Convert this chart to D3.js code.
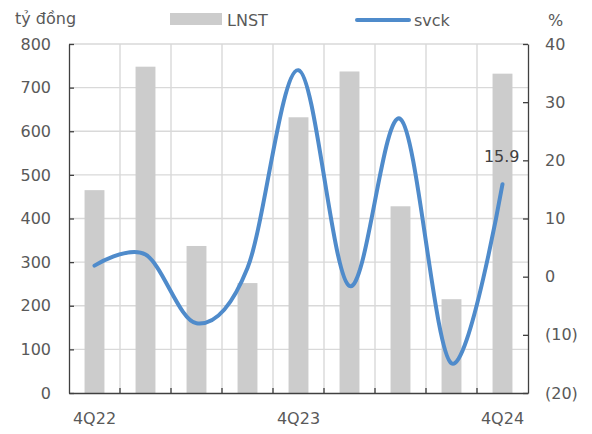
<!DOCTYPE html>
<html>
<head>
<meta charset="utf-8">
<script src="https://cdn.jsdelivr.net/npm/d3@7"></script>
<style>
  html, body { margin: 0; padding: 0; background: #fff; }
  svg { display: block; font-family: "DejaVu Sans", Verdana, sans-serif; }
</style>
</head>
<body>
<svg id="chart" width="592" height="434"></svg>
<script>
// Quarterly net profit (LNST, bn VND) and its YoY change (svck, %)
const quarters = ["4Q22", "1Q23", "2Q23", "3Q23", "4Q23", "1Q24", "2Q24", "3Q24", "4Q24"];
const lnst = [465, 748, 337, 252, 632, 737, 428, 215, 732];
const svck = [1.9, 3.8, -8.0, 1.5, 35.5, -1.6, 27.1, -14.9, 15.9];
const leftTicks = [0, 100, 200, 300, 400, 500, 600, 700, 800];
const rightTicks = [-20, -10, 0, 10, 20, 30, 40];
const shownQuarters = ["4Q22", "4Q23", "4Q24"];

const svg = d3.select("#chart");
const plotL = 69, plotR = 528, plotT = 44, plotB = 393;

const x = d3.scaleBand().domain(quarters).range([plotL, plotR]).paddingInner(0).paddingOuter(0);
const yL = d3.scaleLinear().domain([0, 800]).range([plotB, plotT]);
const yR = d3.scaleLinear().domain([-20, 40]).range([plotB, plotT]);

const gridColor = "#d9d9d9";
const axisColor = "#404040";
const textColor = "#595959";

// horizontal grid
svg.append("g").selectAll("line").data(leftTicks.filter(d => d > 0)).join("line")
  .attr("x1", plotL).attr("x2", plotR)
  .attr("y1", d => yL(d)).attr("y2", d => yL(d))
  .attr("stroke", gridColor).attr("stroke-width", 1.4);

// vertical grid at quarter boundaries
const bounds = quarters.slice(1).map(q => x(q));
svg.append("g").selectAll("line").data(bounds).join("line")
  .attr("x1", d => d).attr("x2", d => d)
  .attr("y1", plotT).attr("y2", plotB)
  .attr("stroke", gridColor).attr("stroke-width", 1.4);

// bars
const bw = x.bandwidth() * 0.39;
svg.append("g").selectAll("rect").data(quarters).join("rect")
  .attr("x", (d) => x(d) + x.bandwidth() / 2 - bw / 2)
  .attr("width", bw)
  .attr("y", (d, i) => yL(lnst[i]))
  .attr("height", (d, i) => plotB - yL(lnst[i]))
  .attr("fill", "#cccccc");

// left axis
const gL = svg.append("g").attr("transform", `translate(${plotL},0)`)
  .call(d3.axisLeft(yL).tickValues(leftTicks).tickSize(-5).tickPadding(18).tickSizeOuter(0));
// right axis
const gR = svg.append("g").attr("transform", `translate(${plotR},0)`)
  .call(d3.axisRight(yR).tickValues(rightTicks).tickSize(-5).tickPadding(17).tickSizeOuter(0)
    .tickFormat(d => d < 0 ? `(${Math.abs(d)})` : `${d}`));
// bottom axis
const gB = svg.append("g").attr("transform", `translate(0,${plotB})`)
  .call(d3.axisBottom(x).tickValues(shownQuarters).tickSize(0).tickPadding(20).tickSizeOuter(0));
svg.append("g").selectAll("line").data(bounds).join("line")
  .attr("x1", d => d).attr("x2", d => d)
  .attr("y1", plotB - 5).attr("y2", plotB)
  .attr("stroke", axisColor).attr("stroke-width", 1.3);

[gL, gR, gB].forEach(g => {
  g.select(".domain").attr("stroke", axisColor).attr("stroke-width", 1.3);
  g.selectAll(".tick line").attr("stroke", axisColor).attr("stroke-width", 1.3);
  g.selectAll("text").attr("fill", textColor).attr("font-size", 16)
    .attr("font-family", "DejaVu Sans, Verdana, sans-serif");
});

// svck line
const line = d3.line()
  .x((d, i) => x(quarters[i]) + x.bandwidth() / 2)
  .y(d => yR(d))
  .curve(d3.curveCardinal.tension(0));
svg.append("path").datum(svck)
  .attr("d", line)
  .attr("fill", "none")
  .attr("stroke", "#4f8bcb")
  .attr("stroke-width", 4)
  .attr("stroke-linecap", "round");

// last value label
const last = svck.length - 1;
svg.append("text")
  .attr("x", x(quarters[last]) + x.bandwidth() / 2 + 17)
  .attr("y", yR(svck[last]) - 22)
  .attr("text-anchor", "end")
  .attr("font-size", 16).attr("fill", "#404040")
  .text(svck[last].toFixed(1));

// titles and legend
svg.append("text").attr("x", 15).attr("y", 24).attr("font-size", 16).attr("fill", textColor).text("tỷ đồng");
svg.append("text").attr("x", 548).attr("y", 26).attr("font-size", 16).attr("fill", textColor).text("%");
svg.append("rect").attr("x", 170).attr("y", 13).attr("width", 52).attr("height", 12).attr("fill", "#cccccc");
svg.append("text").attr("x", 227).attr("y", 26).attr("font-size", 16).attr("fill", textColor).text("LNST");
svg.append("line").attr("x1", 357).attr("x2", 409).attr("y1", 20).attr("y2", 20)
  .attr("stroke", "#4f8bcb").attr("stroke-width", 4).attr("stroke-linecap", "round");
svg.append("text").attr("x", 414).attr("y", 26).attr("font-size", 16).attr("fill", textColor).text("svck");
</script>
</body>
</html>
